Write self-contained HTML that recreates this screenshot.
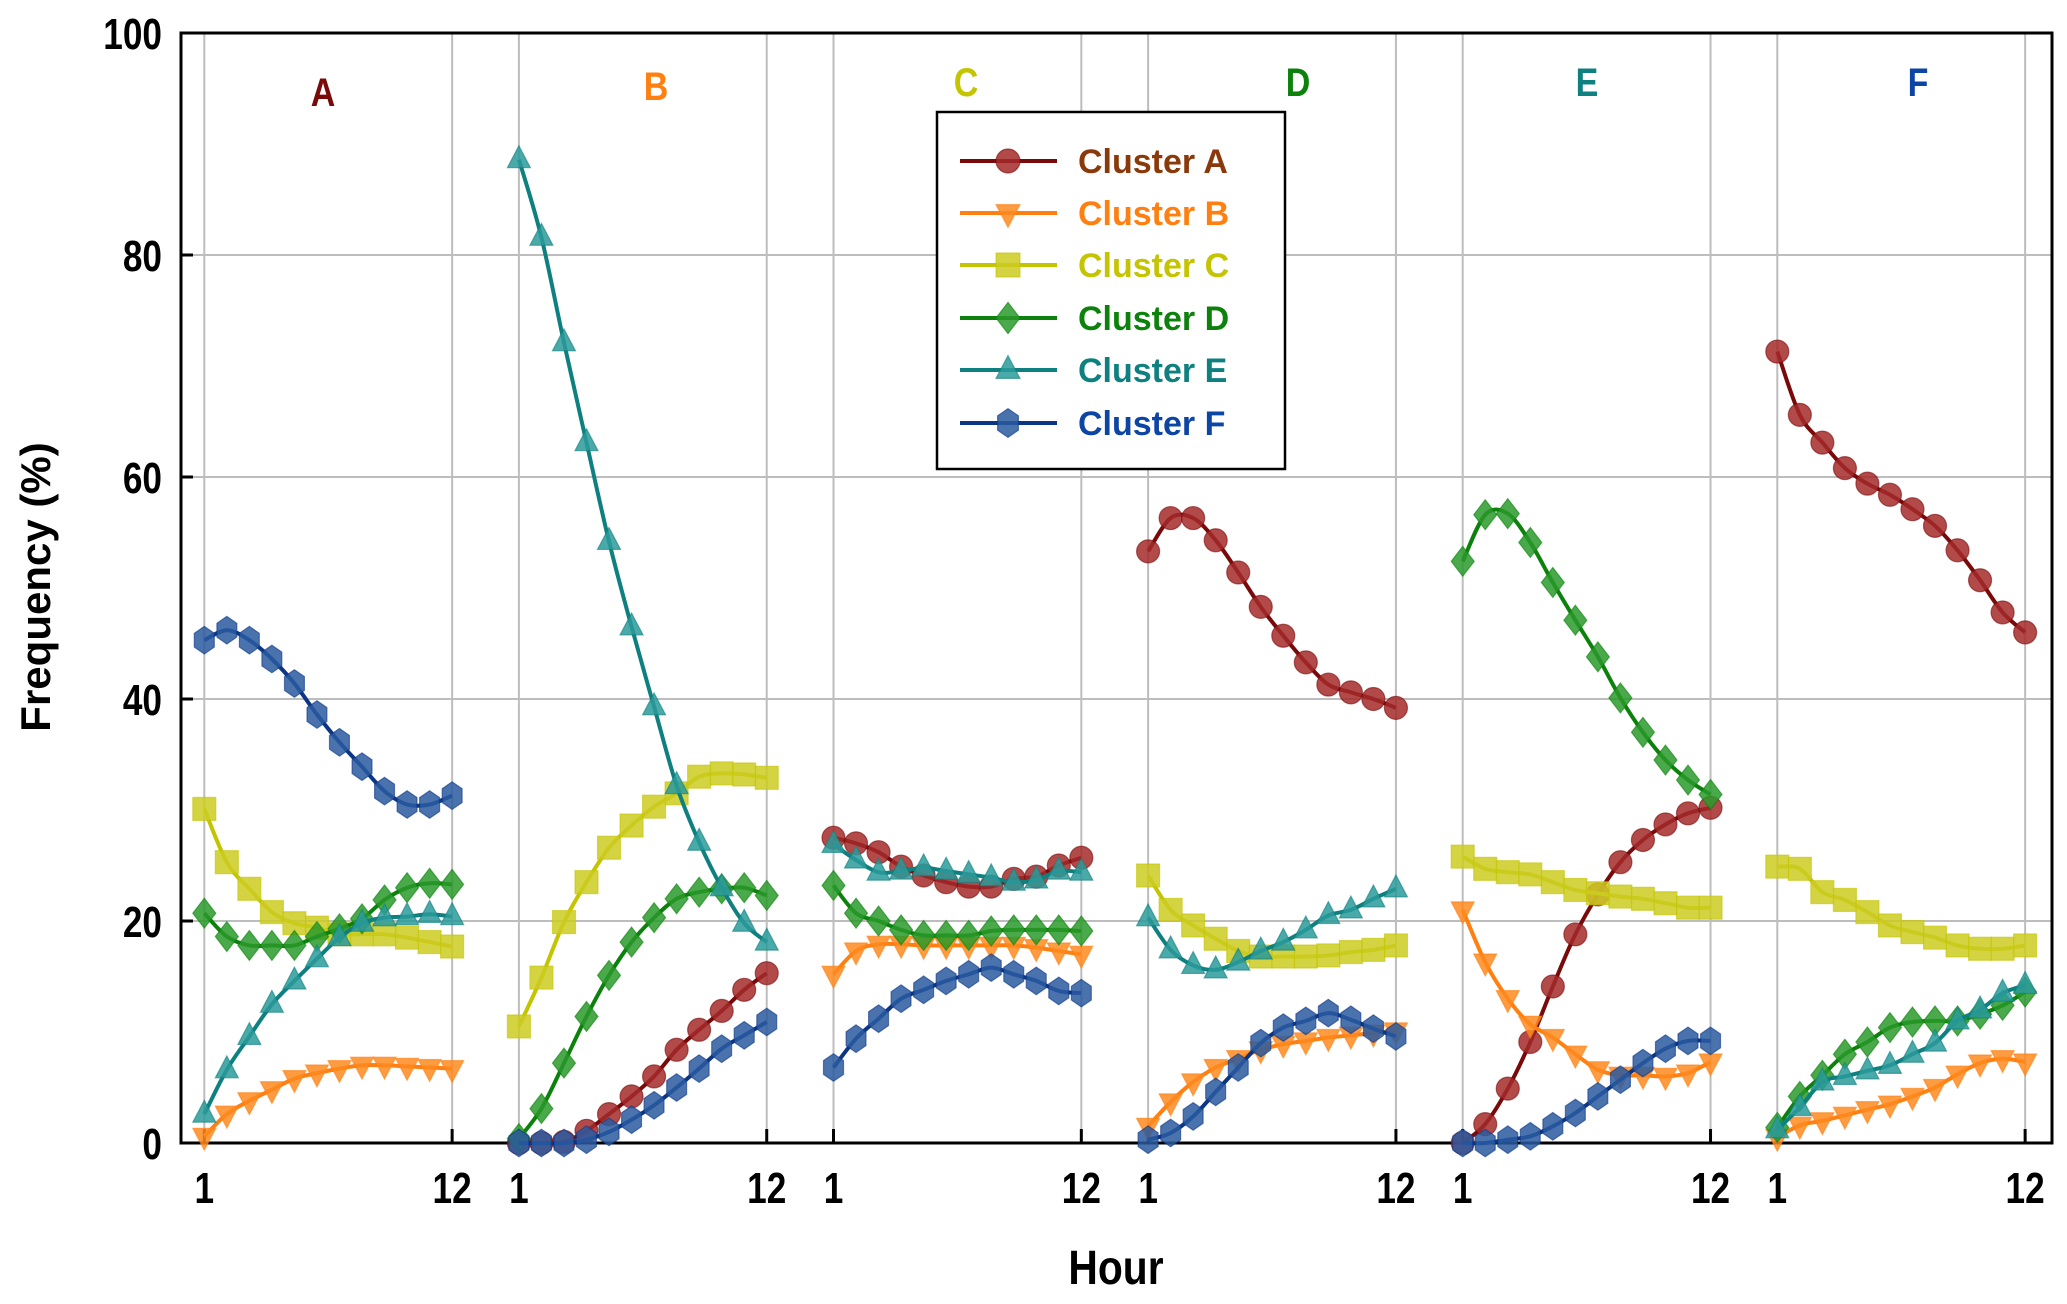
<!DOCTYPE html>
<html><head><meta charset="utf-8">
<style>
html,body{margin:0;padding:0;background:#fff;}
svg{display:block;}
text{font-family:"Liberation Sans",sans-serif;font-weight:bold;}
</style></head>
<body>
<svg id="chart" width="2067" height="1304" viewBox="0 0 2067 1304" xmlns="http://www.w3.org/2000/svg"></svg>
<script>
const panels = ["A","B","C","D","E","F"];
const hours = [1,2,3,4,5,6,7,8,9,10,11,12];
const yTicks = [0,20,40,60,80,100];
const seriesNames = ["Cluster A","Cluster B","Cluster C","Cluster D","Cluster E","Cluster F"];
const panelA = [
 null,
 [0.6,2.6,3.8,4.8,5.8,6.3,6.7,7.0,7.0,6.9,6.8,6.7],
 [30.1,25.3,22.9,20.8,19.8,19.4,18.8,18.8,18.8,18.5,18.1,17.7],
 [20.7,18.6,17.8,17.8,17.8,18.6,19.3,20.2,21.9,23.0,23.4,23.3],
 [2.6,6.6,9.6,12.5,14.6,16.6,18.5,19.8,20.3,20.4,20.6,20.4],
 [45.3,46.2,45.3,43.6,41.4,38.6,36.1,33.9,31.7,30.5,30.5,31.3]
];
const panelB = [
 [0,0,0.1,1.1,2.6,4.2,6.0,8.4,10.2,11.9,13.8,15.3],
 null,
 [10.5,14.9,19.9,23.5,26.6,28.6,30.3,31.5,33.0,33.3,33.2,32.9],
 [0.4,3.1,7.2,11.4,15.1,18.1,20.3,22.0,22.6,22.9,23.0,22.3],
 [88.6,81.6,72.1,63.1,54.2,46.5,39.3,32.2,27.1,23.0,19.8,18.1],
 [0,0,0,0.3,1.0,2.1,3.4,5.0,6.7,8.5,9.7,10.9]
];
const panelC = [
 [27.5,27.0,26.2,24.9,24.1,23.5,23.1,23.1,23.8,24.0,25.0,25.7],
 [15.2,17.3,17.9,17.9,17.8,17.8,17.8,17.8,17.8,17.6,17.3,17.0],
 null,
 [23.2,20.7,20.0,19.2,18.7,18.7,18.7,19.1,19.2,19.2,19.2,19.1],
 [26.9,25.5,24.4,24.5,24.8,24.5,24.2,23.9,23.5,23.7,24.5,24.4],
 [6.8,9.4,11.2,13.0,13.8,14.6,15.2,15.8,15.2,14.6,13.7,13.5]
];
const panelD = [
 [53.3,56.3,56.3,54.3,51.4,48.3,45.7,43.3,41.3,40.6,40.0,39.2],
 [1.5,3.7,5.5,6.8,7.6,8.4,8.9,9.2,9.5,9.7,9.9,10.1],
 [24.1,21.0,19.6,18.4,17.3,16.8,16.8,16.8,16.9,17.2,17.4,17.8],
 null,
 [20.3,17.4,16.0,15.6,16.3,17.3,18.1,19.2,20.5,21.0,22.0,22.9],
 [0.3,0.9,2.4,4.6,6.8,9.0,10.4,11.0,11.7,11.1,10.3,9.6]
];
const panelE = [
 [0,1.7,4.9,9.1,14.1,18.8,22.4,25.3,27.3,28.7,29.7,30.2],
 [21.0,16.3,13.0,10.7,9.5,8.0,6.6,6.1,6.1,6.0,6.3,7.3],
 [25.8,24.7,24.4,24.2,23.5,22.8,22.5,22.2,22.0,21.6,21.2,21.2],
 [52.4,56.6,56.7,54.1,50.5,47.1,43.8,40.1,37.0,34.5,32.7,31.4],
 null,
 [0,0,0.3,0.6,1.5,2.7,4.2,5.7,7.2,8.5,9.2,9.2]
];
const panelF = [
 [71.3,65.6,63.1,60.8,59.4,58.4,57.1,55.6,53.4,50.7,47.8,46.0],
 [0.5,1.6,2.0,2.5,3.0,3.5,4.2,5.0,6.2,7.2,7.6,7.3],
 [24.9,24.7,22.6,21.9,20.8,19.6,19.0,18.5,17.8,17.5,17.5,17.8],
 [1.4,4.2,6.1,8.0,9.1,10.4,10.9,11.0,11.0,11.6,12.4,13.6],
 [1.2,3.2,5.5,6.0,6.5,7.0,8.0,9.0,11.0,12.0,13.5,14.2],
 null
];
const panelData = [panelA,panelB,panelC,panelD,panelE,panelF];

const lineColors = ["#7a0a0a","#ff8010","#c4c400","#0c820c","#0f8080","#0d3585"];
const fillColors = ["#a52a2a","#ff8a20","#cccc22","#2a9a2a","#2a9a9a","#2a5aa0"];
const textColors = ["#8a3a0a","#ff8010","#c4c400","#0c820c","#0f8080","#0d45a5"];
const labelColors = ["#7a0a0a","#ff8010","#c4c400","#0c820c","#0f8080","#0d45a5"];
const shapes = ["circle","tridown","square","diamond","triup","hex"];

const NS="http://www.w3.org/2000/svg";
const svg=document.getElementById("chart");
const X0=181,X1=2052,Y0=33,Y1=1143;
function yPos(v){return Y1-(v/100)*(Y1-Y0);}
function xPos(p,h){return 204.3+p*314.6+(h-1)*22.53;}
function el(tag,attrs,parent){const e=document.createElementNS(NS,tag);for(const k in attrs)e.setAttribute(k,attrs[k]);(parent||svg).appendChild(e);return e;}

const grid=el("g",{});


yTicks.forEach(t=>{ if(t>0&&t<100){el("line",{x1:X0,x2:X1,y1:yPos(t),y2:yPos(t),stroke:"#bdbdbd","stroke-width":2},grid);} });
panels.forEach((p,i)=>{[1,12].forEach(h=>{el("line",{x1:xPos(i,h),x2:xPos(i,h),y1:Y0,y2:Y1,stroke:"#bdbdbd","stroke-width":2},grid);});});

const frame=el("rect",{x:X0,y:Y0,width:X1-X0,height:Y1-Y0,fill:"none",stroke:"#000","stroke-width":3});



yTicks.forEach(t=>{
  el("line",{x1:X0,x2:X0+12,y1:yPos(t),y2:yPos(t),stroke:"#000","stroke-width":3});
  const tx=el("text",{x:0,y:0,transform:`translate(162,${yPos(t)+16}) scale(0.8,1)`,"text-anchor":"end","font-size":44,fill:"#000"});
  tx.textContent=t;
  
  
});
panels.forEach((p,i)=>{[1,12].forEach(h=>{
  el("line",{x1:xPos(i,h),x2:xPos(i,h),y1:Y1,y2:Y1-14,stroke:"#000","stroke-width":3});
  const tx=el("text",{x:0,y:0,transform:`translate(${xPos(i,h)},1203) scale(0.8,1)`,"text-anchor":"middle","font-size":44,fill:"#000"});
  tx.textContent=h;
  
  
});});

const yt=el("text",{x:0,y:0,transform:"translate(50,587) rotate(-90)","text-anchor":"middle","font-size":42,fill:"#000"});
yt.textContent="Frequency (%)";


const xt=el("text",{x:0,y:0,transform:"translate(1116,1284) scale(0.85,1)","text-anchor":"middle","font-size":48,fill:"#000"});
xt.textContent="Hour";



const labelX=[323,656,966,1298,1587,1918];
const labelY=[106,100,96,96,96,96];
panels.forEach((p,i)=>{
  const t=el("text",{x:0,y:0,transform:`translate(${labelX[i]},${labelY[i]}) scale(0.85,1)`,"text-anchor":"middle","font-size":40,fill:labelColors[i]});
  t.textContent=p;
  
  
});

function marker(shape,cx,cy,s,parent,color,stroke){
  const a={fill:color,"fill-opacity":0.85,stroke:stroke,"stroke-width":1.2,"stroke-opacity":0.6};
  let e;
  if(shape==="circle"){e=el("circle",Object.assign({cx:cx,cy:cy,r:s},a),parent);}
  else if(shape==="square"){e=el("rect",Object.assign({x:cx-s,y:cy-s,width:2*s,height:2*s},a),parent);}
  else if(shape==="diamond"){e=el("polygon",Object.assign({points:`${cx},${cy-s*1.3} ${cx+s},${cy} ${cx},${cy+s*1.3} ${cx-s},${cy}`},a),parent);}
  else if(shape==="triup"){e=el("polygon",Object.assign({points:`${cx},${cy-s*1.2} ${cx+s},${cy+s*0.7} ${cx-s},${cy+s*0.7}`},a),parent);}
  else if(shape==="tridown"){e=el("polygon",Object.assign({points:`${cx},${cy+s*1.2} ${cx+s},${cy-s*0.7} ${cx-s},${cy-s*0.7}`},a),parent);}
  else {const pts=[];for(let k=0;k<6;k++){const ang=Math.PI/2+k*Math.PI/3;pts.push((cx+s*1.0*Math.cos(ang)).toFixed(1)+","+(cy+s*1.2*Math.sin(ang)).toFixed(1));}e=el("polygon",Object.assign({points:pts.join(" ")},a),parent);}
  return e;
}
function smoothPath(pts){
  let d=`M${pts[0][0]},${pts[0][1]}`;
  for(let i=0;i<pts.length-1;i++){
    const p0=pts[i-1]||pts[i],p1=pts[i],p2=pts[i+1],p3=pts[i+2]||p2;
    const c1=[p1[0]+(p2[0]-p0[0])/6,p1[1]+(p2[1]-p0[1])/6];
    const c2=[p2[0]-(p3[0]-p1[0])/6,p2[1]-(p3[1]-p1[1])/6];
    d+=` C${c1[0].toFixed(1)},${c1[1].toFixed(1)} ${c2[0].toFixed(1)},${c2[1].toFixed(1)} ${p2[0].toFixed(1)},${p2[1].toFixed(1)}`;
  }
  return d;
}
panelData.forEach((pd,pi)=>{
  pd.forEach((vals,si)=>{
    if(!vals) return;
    const g=el("g",{});
    
    
    const pts=vals.map((v,k)=>[xPos(pi,hours[k]),yPos(v)]);
    el("path",{d:smoothPath(pts),fill:"none",stroke:lineColors[si],"stroke-width":4},g);
    pts.forEach(p=>{
      const m=marker(shapes[si],p[0],p[1],11.5,g,fillColors[si],lineColors[si]);
      
      
    });
  });
});

const lg=el("g",{});


el("rect",{x:937,y:112,width:348,height:357,fill:"#fff",stroke:"#000","stroke-width":2.5},lg);
const rowY=[161,213,265,318,370,423];
seriesNames.forEach((n,i)=>{
  const r=el("g",{},lg);
  
  
  el("line",{x1:960,x2:1057,y1:rowY[i],y2:rowY[i],stroke:lineColors[i],"stroke-width":4},r);
  marker(shapes[i],1008,rowY[i],12,r,fillColors[i],lineColors[i]);
  const t=el("text",{x:1078,y:rowY[i]+12,"font-size":34,fill:textColors[i]},r);
  t.textContent=n;
});
</script>
</body></html>
